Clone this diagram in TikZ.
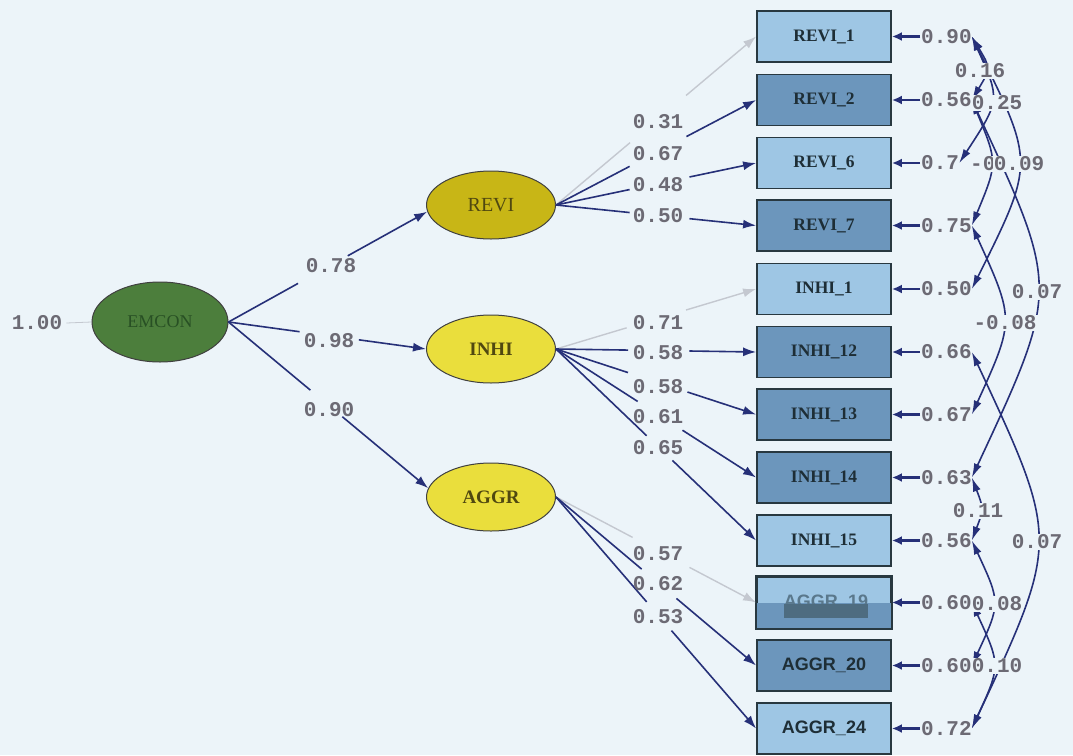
\documentclass[tikz,border=0pt]{standalone}
\usepackage{fontspec}
\setmainfont{Liberation Serif}
\newfontfamily\monof{Liberation Mono}
\newfontfamily\sansf{Liberation Sans}
\usetikzlibrary{arrows.meta,calc,shapes.geometric}
\definecolor{bg}{RGB}{236,244,249}
\definecolor{navy}{RGB}{38,48,120}
\definecolor{lgrey}{RGB}{196,200,208}
\definecolor{numc}{RGB}{108,106,116}
\definecolor{boxlight}{RGB}{158,198,228}
\definecolor{boxdark}{RGB}{108,150,188}
\definecolor{boxedge}{RGB}{40,56,64}
\definecolor{emg}{RGB}{76,126,60}
\definecolor{emtxt}{RGB}{40,80,36}
\definecolor{revy}{RGB}{200,182,22}
\definecolor{iny}{RGB}{234,222,60}
\definecolor{ytxt}{RGB}{80,72,16}
\definecolor{boxtxt}{RGB}{30,46,54}
\definecolor{aband}{RGB}{78,108,128}
\definecolor{atxt}{RGB}{90,120,140}
% loading: from, to, t1, t2, style
\newcommand\ldg[5]{%
  \draw[#5] (#1.east) -- ($(#1.east)!#3!(#2.west)$);
  \draw[#5arr] ($(#1.east)!#4!(#2.west)$) -- (#2.west);}
% covariance arc: node1, node2, control offset
\newcommand\covarc[3]{%
  \draw[cov] (#1.east) .. controls ($(#1.east)!0.5!(#2.east)+(#3,0)$) .. (#2.east);}
\begin{document}
\begin{tikzpicture}[x=1pt,y=-1pt,
  obs/.style={draw=boxedge, line width=1.8pt, minimum width=134pt, minimum height=51pt,
    inner sep=0pt, font=\bfseries\fontsize{17.5}{17.5}\selectfont, text=boxtxt},
  light/.style={obs, fill=boxlight},
  dark/.style={obs, fill=boxdark},
  asans/.style={font=\sansf\bfseries\fontsize{18}{18}\selectfont},
  lat/.style={ellipse, draw=black!75, line width=1pt, minimum width=129pt,
    minimum height=68pt, inner sep=0pt},
  num/.style={font=\monof\bfseries\fontsize{21}{21}\selectfont, text=numc, inner sep=0pt},
  covlab/.style={num, fill=bg, inner sep=1pt},
  load/.style={draw=navy, line width=1.6pt},
  loadarr/.style={load, -{Latex[length=13pt,width=9pt]}},
  gload/.style={draw=lgrey, line width=1.4pt},
  gloadarr/.style={gload, -{Latex[length=13pt,width=9pt]}},
  err/.style={draw=navy, line width=2.4pt, -{Latex[length=10pt,width=9pt]}},
  cov/.style={draw=navy, line width=1.6pt,
    {Latex[length=14pt,width=8pt]}-{Latex[length=14pt,width=8pt]}}
]
\fill[bg] (0,0) rectangle (1073,755);
\useasboundingbox (0,0) rectangle (1073,755);

% latent variables
\node[lat, fill=emg, minimum width=136pt, minimum height=80pt, text=emtxt,
  font=\fontsize{18}{18}\selectfont] (EMCON) at (160,322) {EMCON};
\node[lat, fill=revy, text=ytxt, font=\fontsize{20}{20}\selectfont] (REVI) at (491,205) {REVI};
\node[lat, fill=iny, text=ytxt, font=\bfseries\fontsize{19}{19}\selectfont] (INHI) at (491,349) {INHI};
\node[lat, fill=iny, text=ytxt, font=\bfseries\fontsize{19}{19}\selectfont] (AGGR) at (491,497) {AGGR};

% observed variables
\node[light] (r1) at (824,36.5) {REVI\_1};
\node[dark] (r2) at (824,100) {REVI\_2};
\node[light] (r6) at (824,163) {REVI\_6};
\node[dark] (r7) at (824,225.5) {REVI\_7};
\node[light] (i1) at (824,289) {INHI\_1};
\node[dark] (i12) at (824,352) {INHI\_12};
\node[dark] (i13) at (824,414.5) {INHI\_13};
\node[dark] (i14) at (824,477.5) {INHI\_14};
\node[light] (i15) at (824,540.5) {INHI\_15};
\node[light] (a19) at (824,602.5) {};
\fill[boxdark] ($(a19.west)+(1,0)$) rectangle ($(a19.south east)+(-1,-1)$);
\draw[boxedge, line width=1.8pt] (a19.north west) rectangle (a19.south east);
\node[asans, text=atxt, inner sep=0pt] (a19t) at (826,602) {AGGR\_19};
\fill[aband] (784,604) rectangle (868,618);
\node[dark, asans] (a20) at (824,665.5) {AGGR\_20};
\node[light, asans] (a24) at (824,728.5) {AGGR\_24};

% EMCON variance
\node[num] (one) at (37,323) {1.00};
\draw[lgrey, line width=0.8pt] (one.east) ++(4,0) -- (EMCON.west);

% structural paths
\coordinate (tR) at (REVI.186);
\coordinate (tI) at (INHI.west);
\coordinate (tA) at (AGGR.172);
\draw[load] (EMCON.east) -- ($(EMCON.east)!0.35!(tR)$);
\draw[loadarr] ($(EMCON.east)!0.6!(tR)$) -- (tR);
\draw[load] (EMCON.east) -- ($(EMCON.east)!0.36!(tI)$);
\draw[loadarr] ($(EMCON.east)!0.66!(tI)$) -- (tI);
\draw[load] (EMCON.east) -- ($(EMCON.east)!0.41!(tA)$);
\draw[loadarr] ($(EMCON.east)!0.57!(tA)$) -- (tA);
\node[num] (p1) at (331,266) {0.78};
\node[num] (p2) at (329,341) {0.98};
\node[num] (p3) at (329,410) {0.90};

% loadings
\ldg{REVI}{r1}{0.37}{0.65}{gload}
\ldg{REVI}{r2}{0.368}{0.652}{load}
\ldg{REVI}{r6}{0.368}{0.667}{load}
\ldg{REVI}{r7}{0.368}{0.667}{load}
\ldg{INHI}{i1}{0.353}{0.65}{gload}
\ldg{INHI}{i12}{0.36}{0.667}{load}
\ldg{INHI}{i13}{0.36}{0.657}{load}
\ldg{INHI}{i14}{0.408}{0.632}{load}
\ldg{INHI}{i15}{0.453}{0.582}{load}
\ldg{AGGR}{a19}{0.383}{0.667}{gload}
\ldg{AGGR}{a20}{0.428}{0.602}{load}
\ldg{AGGR}{a24}{0.453}{0.577}{load}
\node[num] (l1) at (658,122) {0.31};
\node[num] (l2) at (658,154) {0.67};
\node[num] (l3) at (658,185) {0.48};
\node[num] (l4) at (658,216) {0.50};
\node[num] (l5) at (658,323) {0.71};
\node[num] (l6) at (658,353) {0.58};
\node[num] (l7) at (658,387) {0.58};
\node[num] (l8) at (658,417) {0.61};
\node[num] (l9) at (658,448) {0.65};
\node[num] (l10) at (658,554) {0.57};
\node[num] (l11) at (658,584) {0.62};
\node[num] (l12) at (658,617) {0.53};

% error variances (anchors)
\node[num, anchor=west, text opacity=0] (r1e) at (921,36.5) {0.90};
\node[num, anchor=west, text opacity=0] (r2e) at (921,100) {0.56};
\node[num, anchor=west, text opacity=0] (r6e) at (921,163) {0.7};
\node[num, anchor=west, text opacity=0] (r7e) at (921,225.5) {0.75};
\node[num, anchor=west, text opacity=0] (i1e) at (921,289) {0.50};
\node[num, anchor=west, text opacity=0] (i12e) at (921,352) {0.66};
\node[num, anchor=west, text opacity=0] (i13e) at (921,414.5) {0.67};
\node[num, anchor=west, text opacity=0] (i14e) at (921,477.5) {0.63};
\node[num, anchor=west, text opacity=0] (i15e) at (921,540.5) {0.56};
\node[num, anchor=west, text opacity=0] (a19e) at (921,602.5) {0.60};
\node[num, anchor=west, text opacity=0] (a20e) at (921,665.5) {0.60};
\node[num, anchor=west, text opacity=0] (a24e) at (921,728.5) {0.72};

% covariance arcs
\covarc{r1e}{r2e}{19}
\covarc{r1e}{r6e}{35}
\covarc{r2e}{r7e}{26}
\covarc{r1e}{i1e}{63}
\covarc{r2e}{i14e}{88}
\covarc{r7e}{i13e}{43}
\covarc{i14e}{i15e}{12}
\covarc{i12e}{a24e}{88}
\covarc{i15e}{a20e}{29}
\covarc{a19e}{a24e}{29}

\node[covlab] (c1) at (980,71) {0.16};
\node[covlab] (c2) at (997,103) {0.25};
\node[covlab, anchor=west] (c3) at (969,164) {-0};
\node[covlab] (c4) at (1019,164) {0.09};
\node[covlab] (c5) at (1037,292) {0.07};
\node[covlab] (c6) at (1005,323) {-0.08};
\node[covlab] (c7) at (978,511) {0.11};
\node[covlab] (c8) at (1037,542) {0.07};
\node[covlab] (c9) at (997,604) {0.08};
\node[covlab] (c10) at (997,666) {0.10};

% error variance texts and arrows
\foreach \e/\b/\v in {r1e/r1/0.90, r2e/r2/0.56, r6e/r6/0.7, r7e/r7/0.75, i1e/i1/0.50,
  i12e/i12/0.66, i13e/i13/0.67, i14e/i14/0.63, i15e/i15/0.56, a19e/a19/0.60,
  a20e/a20/0.60, a24e/a24/0.72}{
  \node[num, anchor=west] at (\e.west) {\v};
  \draw[err] ($(\e.west)+(-1,0)$) -- (\b.east);
}
\end{tikzpicture}
\end{document}
